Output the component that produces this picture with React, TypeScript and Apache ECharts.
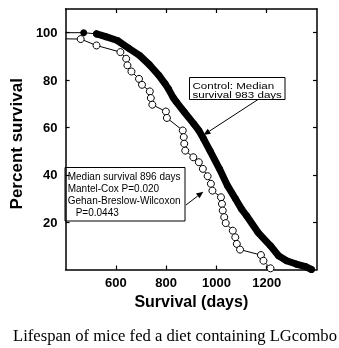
import React, { useEffect, useRef } from "react";
import * as echarts from "echarts";

const xTicks = [600, 800, 1000, 1200];
const yTicks = [20, 40, 60, 80, 100];

// Control group (filled circles)
const ctrlDays = [400, 472, 523, 560, 606, 650, 694, 733, 771, 796, 809, 828, 841, 872, 910, 930, 949, 975, 1012, 1044, 1075, 1100, 1120, 1165, 1215, 1247, 1279, 1317, 1355, 1378];
const ctrlSurv = [100, 100, 99.5, 98.3, 96.7, 93.5, 90.4, 86.5, 82, 78.4, 76.3, 72.6, 70.7, 66.5, 61.5, 58.7, 55.2, 50, 42.5, 35.4, 30, 25.5, 22.7, 15.7, 10, 5.8, 3.7, 2.3, 1.2, 0];

// LGcombo group (open circles)
const treatDays = [400, 460, 523, 618, 641, 646, 662, 692, 704, 735, 739, 745, 799, 803, 866, 870, 872, 876, 908, 930, 946, 965, 978, 984, 1018, 1022, 1025, 1031, 1037, 1065, 1075, 1081, 1094, 1177, 1187, 1215];
const treatSurv = [97.4, 97.3, 94.6, 91.8, 89.0, 86.2, 83.6, 80.5, 78.0, 75.2, 72.4, 69.6, 66.7, 64.0, 58.7, 55.9, 53.1, 50.2, 47.4, 45.3, 42.5, 39.4, 36.2, 33.3, 30.5, 27.7, 24.9, 22.1, 19.6, 16.4, 13.6, 10.8, 8.4, 6.1, 3.7, 0.5];

const SANS = "'Liberation Sans', Arial, sans-serif";

export default function App() {
  const ref = useRef<HTMLDivElement>(null);
  useEffect(() => {
    const chart = echarts.init(ref.current!, null, { renderer: "svg" });

    const ctrlData = ctrlDays.map((d, i) =>
      i === 0 ? { value: [d, ctrlSurv[i]], symbol: "none" } : { value: [d, ctrlSurv[i]] }
    );
    const ctrlThick = ctrlDays.slice(2).map((d, i) => [d, ctrlSurv[i + 2]]);
    const treatData = treatDays.map((d, i) =>
      i === 0 ? { value: [d, treatSurv[i]], symbol: "none" } : { value: [d, treatSurv[i]] }
    );

    const axisLine = { show: true, onZero: false, lineStyle: { color: "#000", width: 1.5 } };
    const tickStyle = { color: "#000", width: 1.2 };

    const arrow = (x1: number, y1: number, x2: number, y2: number) => {
      const dx = x2 - x1, dy = y2 - y1;
      const len = Math.hypot(dx, dy);
      const ux = dx / len, uy = dy / len;
      const L = 7, W = 3;
      const bx = x2 - L * ux, by = y2 - L * uy;
      return [
        { type: "line", shape: { x1, y1, x2: bx, y2: by }, style: { stroke: "#000", lineWidth: 1 } },
        {
          type: "polygon",
          shape: { points: [[x2, y2], [bx - W * uy, by + W * ux], [bx + W * uy, by - W * ux]] },
          style: { fill: "#000" },
        },
      ];
    };

    const txt = (text: string, x: number, y: number, font: string, align = "left", scaleX = 1) => ({
      type: "text",
      x,
      y,
      scaleX,
      style: { text, font, fill: "#000", textAlign: align, textVerticalAlign: "middle" },
    });

    const fmt = (v: number) => String(v);

    chart.setOption({
      animation: false,
      grid: { left: 56, right: 22, top: 9, bottom: 78.5 },
      xAxis: [
        {
          type: "value",
          min: 400,
          max: 1400,
          interval: 200,
          position: "bottom",
          axisLine,
          axisTick: { show: true, inside: true, length: 4, customValues: xTicks, lineStyle: tickStyle },
          axisLabel: { customValues: xTicks, formatter: fmt, color: "#000", fontWeight: "bold", fontSize: 13, fontFamily: SANS, margin: 6 },
          splitLine: { show: false },
          name: "Survival (days)",
          nameLocation: "middle",
          nameGap: 22,
          nameTextStyle: { color: "#000", fontWeight: "bold", fontSize: 16, fontFamily: SANS, verticalAlign: "top" },
        },
        {
          type: "value",
          min: 400,
          max: 1400,
          interval: 200,
          position: "top",
          axisLine,
          axisTick: { show: true, inside: true, length: 4, customValues: xTicks, lineStyle: tickStyle },
          axisLabel: { show: false },
          splitLine: { show: false },
        },
      ],
      yAxis: [
        {
          type: "value",
          min: 0,
          max: 110,
          interval: 20,
          position: "left",
          axisLine,
          axisTick: { show: true, inside: true, length: 4, customValues: yTicks, lineStyle: tickStyle },
          axisLabel: { customValues: yTicks, formatter: fmt, color: "#000", fontWeight: "bold", fontSize: 13, fontFamily: SANS, margin: 8 },
          splitLine: { show: false },
          name: "Percent survival",
          nameLocation: "middle",
          nameGap: 33,
          nameRotate: 90,
          nameTextStyle: { color: "#000", fontWeight: "bold", fontSize: 17, fontFamily: SANS, padding: [0, 9, 0, 0] },
        },
        {
          type: "value",
          min: 0,
          max: 110,
          interval: 20,
          position: "right",
          axisLine,
          axisTick: { show: true, inside: true, length: 4, customValues: yTicks, lineStyle: tickStyle },
          axisLabel: { show: false },
          splitLine: { show: false },
        },
      ],
      series: [
        {
          name: "Control",
          type: "line",
          data: ctrlData,
          symbol: "circle",
          symbolSize: 7,
          itemStyle: { color: "#000" },
          lineStyle: { color: "#000", width: 1 },
          z: 2,
        },
        {
          name: "Control band",
          type: "line",
          data: ctrlThick,
          symbol: "none",
          silent: true,
          lineStyle: { color: "#000", width: 7, cap: "round", join: "round" },
          z: 2,
        },
        {
          name: "LGcombo",
          type: "line",
          data: treatData,
          symbol: "circle",
          symbolSize: 7,
          itemStyle: { color: "#fff", borderColor: "#000", borderWidth: 1 },
          lineStyle: { color: "#000", width: 1 },
          z: 3,
        },
      ],
      graphic: [
        { type: "rect", shape: { x: 189.5, y: 77.5, width: 95.5, height: 22 }, style: { fill: "#fff", stroke: "#000", lineWidth: 1 } },
        txt("Control: Median", 192.5, 85, `9.5px ${SANS}`, "left", 1.22),
        txt("survival 983 days", 192.5, 94.2, `9.5px ${SANS}`, "left", 1.22),
        ...arrow(258, 99.5, 203.5, 135),
        { type: "rect", shape: { x: 65, y: 167.5, width: 120, height: 53.5 }, style: { fill: "#fff", stroke: "#000", lineWidth: 1 } },
        txt("Median survival 896 days", 67.7, 176, `10px ${SANS}`),
        txt("Mantel-Cox P=0.020", 67.7, 188, `10px ${SANS}`),
        txt("Gehan-Breslow-Wilcoxon", 67.7, 200, `10px ${SANS}`),
        txt("P=0.0443", 75.7, 212.3, `10px ${SANS}`),
        ...arrow(186, 205, 203.3, 191.7),
        txt("Lifespan of mice fed a diet containing LGcombo", 175, 335, "16.6px 'Liberation Serif', 'Times New Roman', serif", "center"),
      ],
    });
    return () => chart.dispose();
  }, []);
  return <div ref={ref} style={{ position: "fixed", left: 0, top: 0, width: 339, height: 348 }} />;
}
